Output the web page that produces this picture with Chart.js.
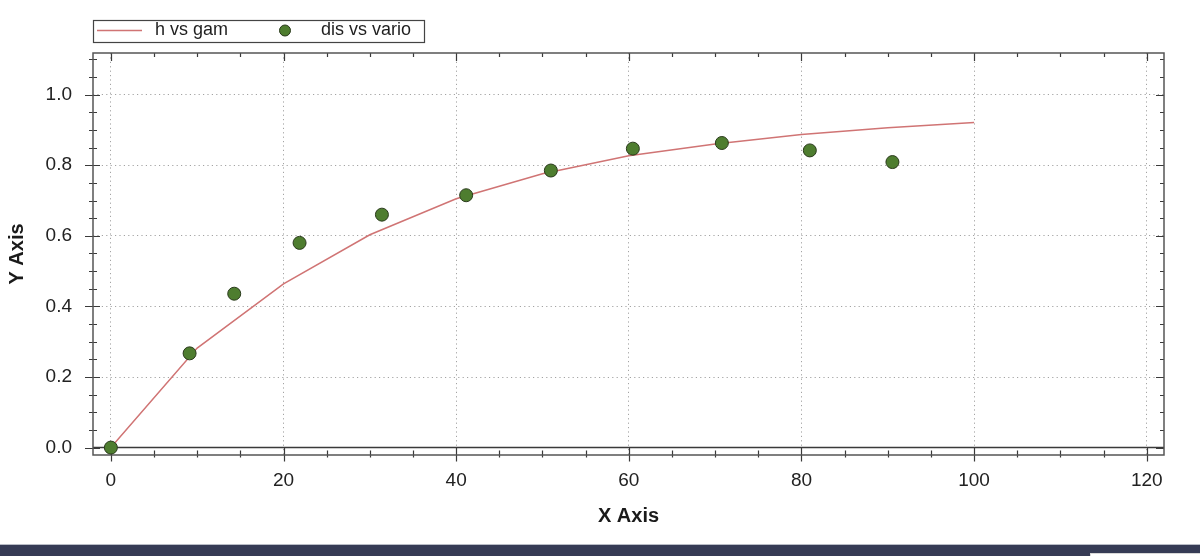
<!DOCTYPE html>
<html>
<head>
<meta charset="utf-8">
<title>h vs gam</title>
<script src="https://cdn.jsdelivr.net/npm/chart.js@4.4.1/dist/chart.umd.min.js"></script>
<style>
    html, body { margin: 0; padding: 0; background: #fff; }
    .wrap { position: relative; width: 1200px; height: 556px; overflow: hidden; }
    #chart { position: absolute; left: 0; top: 0; }
    .band { position: absolute; left: 0; top: 544px; width: 1200px; height: 12px;
            background: #363b55; border-top: 1px solid #b9bcc6; box-sizing: border-box; }
    .tab { position: absolute; left: 1090px; top: 553px; width: 120px; height: 10px;
           background: #fff; border: 1px solid #d8d8d8; box-sizing: border-box; }
</style>
</head>
<body>
<div class="wrap">
    <canvas id="chart" width="1200" height="544"></canvas>
    <div class="band"></div>
    <div class="tab"></div>
</div>
<script>
/* ---- data ---- */
const hValues = [0, 10, 20, 30, 40, 50, 60, 70, 80, 90, 100];
const gamValues = [0, 0.282, 0.464, 0.603, 0.705, 0.776, 0.827, 0.860, 0.887, 0.906, 0.921];

const disValues = [0, 9.12, 14.29, 21.86, 31.40, 41.16, 50.97, 60.47, 70.78, 80.97, 90.54];
const varioValues = [0, 0.267, 0.436, 0.580, 0.660, 0.715, 0.785, 0.847, 0.863, 0.842, 0.809];

const xTicks = [0, 20, 40, 60, 80, 100, 120];
const yTicks = [0, 0.2, 0.4, 0.6, 0.8, 1.0];

const FONT = "'Liberation Sans', Arial, sans-serif";
const LINE_COLOR = '#d07474';
const POINT_FILL = '#4e7d2f';
const POINT_EDGE = '#2a3a1c';

// frame, zero line, tick marks and the boxed legend
const framePlugin = {
    id: 'frame',
    beforeDatasetsDraw(chart) {
        const { ctx, chartArea: a, scales: { x, y } } = chart;
        ctx.save();

        // zero line
        const y0 = y.getPixelForValue(0);
        ctx.strokeStyle = '#3a3a3a';
        ctx.lineWidth = 1.5;
        ctx.beginPath();
        ctx.moveTo(a.left, y0);
        ctx.lineTo(a.right, y0);
        ctx.stroke();

        // ticks
        ctx.lineWidth = 1.2;
        ctx.strokeStyle = '#3a3a3a';
        ctx.beginPath();
        for (let v = 0; v <= 120; v += 5) {
            const px = Math.round(x.getPixelForValue(v)) + 0.5;
            const major = v % 20 === 0;
            // bottom
            ctx.moveTo(px, major ? y0 : y0 + 3);
            ctx.lineTo(px, major ? y0 + 14 : y0 + 10);
            // top
            ctx.moveTo(px, a.top);
            ctx.lineTo(px, a.top + (major ? 8 : 4));
        }
        for (let i = 0; i <= 22; i++) {
            const v = i * 0.05;
            const py = Math.round(y.getPixelForValue(v)) + 0.5;
            const major = i % 4 === 0;
            // left, crossing the frame
            ctx.moveTo(a.left - (major ? 8 : 4), py);
            ctx.lineTo(a.left + (major ? 7 : 4), py);
            // right
            ctx.moveTo(a.right - (major ? 8 : 4), py);
            ctx.lineTo(a.right, py);
        }
        ctx.stroke();

        // frame
        ctx.strokeStyle = '#555';
        ctx.lineWidth = 1.5;
        ctx.strokeRect(a.left, a.top, a.right - a.left, a.bottom - a.top);
        ctx.restore();
    },
    afterDraw(chart) {
        const { ctx } = chart;
        const [lineSet, pointSet] = chart.data.datasets;
        ctx.save();
        ctx.fillStyle = '#fff';
        ctx.fillRect(93, 20, 331, 22);
        ctx.strokeStyle = '#444';
        ctx.lineWidth = 1.2;
        ctx.strokeRect(93.5, 20.5, 331, 22);

        ctx.strokeStyle = LINE_COLOR;
        ctx.lineWidth = 1.5;
        ctx.beginPath();
        ctx.moveTo(97, 30.5);
        ctx.lineTo(142, 30.5);
        ctx.stroke();

        ctx.beginPath();
        ctx.arc(285, 30.5, 5.5, 0, Math.PI * 2);
        ctx.fillStyle = POINT_FILL;
        ctx.fill();
        ctx.strokeStyle = POINT_EDGE;
        ctx.lineWidth = 1;
        ctx.stroke();

        ctx.fillStyle = '#1e1e1e';
        ctx.font = '18px ' + FONT;
        ctx.textBaseline = 'middle';
        ctx.fillText(lineSet.label, 155, 30);
        ctx.fillText(pointSet.label, 321, 30);
        ctx.restore();
    }
};

const makeScale = (min, max, ticks, fmt) => ({
    type: 'linear',
    min: min,
    max: max,
    afterBuildTicks: (scale) => { scale.ticks = ticks.map(v => ({ value: v })); },
    grid: { color: '#a3a3a3', lineWidth: 1, drawTicks: false },
    border: { display: false, dash: [1.2, 3.2] },
    ticks: { color: '#222', font: { family: FONT, size: 19 }, callback: fmt }
});

const xScale = makeScale(-2.07, 122, xTicks, v => String(v));
xScale.ticks.padding = 14;
xScale.ticks.maxRotation = 0;
xScale.title = { display: true, text: 'X Axis', color: '#1a1a1a',
                 font: { family: FONT, size: 20, weight: 'bold' }, padding: { top: 0, bottom: 16 } };
xScale.afterFit = (scale) => { scale.height = 89; };

const yScale = makeScale(-0.021, 1.118, yTicks, v => v.toFixed(1));
yScale.ticks.padding = 21;
yScale.title = { display: true, text: 'Y Axis', color: '#1a1a1a',
                 font: { family: FONT, size: 20, weight: 'bold' }, padding: { top: 5, bottom: 0 } };
yScale.afterFit = (scale) => { scale.width = 93; };

new Chart(document.getElementById('chart'), {
    type: 'scatter',
    data: {
        datasets: [{
            label: 'h vs gam',
            data: hValues.map((h, i) => ({ x: h, y: gamValues[i] })),
            showLine: true,
            borderColor: LINE_COLOR,
            borderWidth: 1.5,
            pointRadius: 0,
            tension: 0,
            order: 1
        }, {
            label: 'dis vs vario',
            data: disValues.map((d, i) => ({ x: d, y: varioValues[i] })),
            showLine: false,
            pointRadius: 6.5,
            pointBackgroundColor: POINT_FILL,
            pointBorderColor: POINT_EDGE,
            pointBorderWidth: 1,
            order: 0
        }]
    },
    options: {
        responsive: false,
        animation: false,
        devicePixelRatio: 1,
        layout: { padding: { top: 53, right: 36, left: 0, bottom: 0 } },
        scales: { x: xScale, y: yScale },
        plugins: {
            legend: { display: false },
            tooltip: { enabled: false }
        }
    },
    plugins: [framePlugin]
});
</script>
</body>
</html>
